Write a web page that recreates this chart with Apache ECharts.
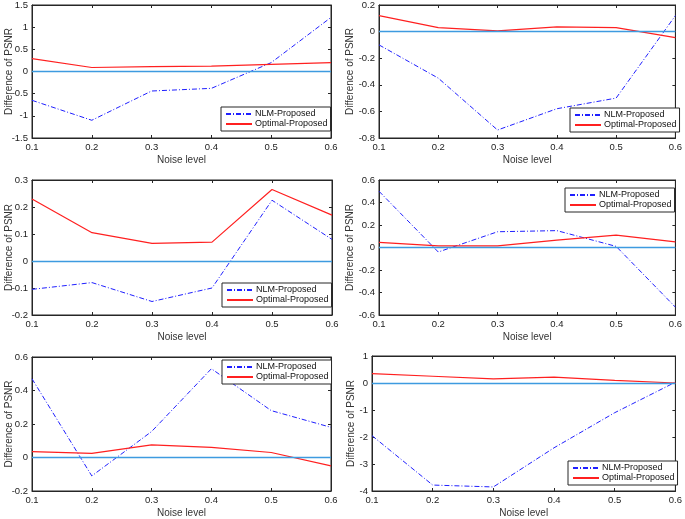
<!DOCTYPE html>
<html>
<head>
<meta charset="utf-8">
<script src="https://cdn.jsdelivr.net/npm/echarts@6/dist/echarts.min.js"></script>
<style>
  html, body { margin: 0; padding: 0; background: #fff; }
  #chart { width: 685px; height: 519px; }
</style>
</head>
<body>
<div id="chart"></div>
<script>
// noise levels on the x axis
var noiseLevels = [0.1, 0.2, 0.3, 0.4, 0.5, 0.6];

// PSNR differences, one pair of arrays per panel
var nlm1 = [-0.65, -1.10, -0.44, -0.38, 0.20, 1.22];
var opt1 = [0.29, 0.09, 0.11, 0.12, 0.16, 0.20];
var nlm2 = [-0.10, -0.35, -0.74, -0.58, -0.50, 0.12];
var opt2 = [0.12, 0.03, 0.005, 0.035, 0.03, -0.045];
var nlm3 = [-0.105, -0.08, -0.15, -0.10, 0.225, 0.08];
var opt3 = [0.23, 0.105, 0.065, 0.07, 0.265, 0.17];
var nlm4 = [0.50, -0.04, 0.14, 0.15, 0.01, -0.53];
var opt4 = [0.045, 0.015, 0.015, 0.065, 0.11, 0.05];
var nlm5 = [0.47, -0.11, 0.155, 0.53, 0.28, 0.18];
var opt5 = [0.035, 0.025, 0.075, 0.06, 0.03, -0.05];
var nlm6 = [-1.95, -3.78, -3.85, -2.40, -1.10, 0.03];
var opt6 = [0.35, 0.25, 0.15, 0.22, 0.10, 0.0];

// y axis [min, max, step] per panel
var yRanges = [
  [-1.5, 1.5, 0.5],
  [-0.8, 0.2, 0.2],
  [-0.2, 0.3, 0.1],
  [-0.6, 0.6, 0.2],
  [-0.2, 0.6, 0.2],
  [-4, 1, 1]
];

var panels = [
  { nlm: nlm1, opt: opt1, grid: [32, 3, 299, 135], yGap: 18, legend: [221, 107] },
  { nlm: nlm2, opt: opt2, grid: [379, 3, 300, 135], yGap: 24, legend: [570, 108] },
  { nlm: nlm3, opt: opt3, grid: [32, 180, 300, 135], yGap: 18, legend: [222, 283] },
  { nlm: nlm4, opt: opt4, grid: [379, 180, 300, 135], yGap: 24, legend: [565, 188] },
  { nlm: nlm5, opt: opt5, grid: [32, 357, 299, 136], yGap: 18, legend: [222, 360] },
  { nlm: nlm6, opt: opt6, grid: [372, 356, 307, 137], yGap: 16, legend: [568, 461] }
];

var FONT = 'Liberation Sans';
var AXIS_COLOR = '#262626';

function pairs(xs, ys) {
  return xs.map(function (x, i) { return [x, ys[i]]; });
}

var grids = [], xAxes = [], yAxes = [], series = [], legends = [];

panels.forEach(function (p, i) {
  var r = yRanges[i];
  grids.push({
    left: p.grid[0], top: p.grid[1], width: p.grid[2], height: p.grid[3],
    show: true, borderColor: AXIS_COLOR, borderWidth: 1, backgroundColor: '#fff'
  });
  var tickCommon = { show: true, inside: true, length: 3, lineStyle: { color: AXIS_COLOR } };
  // bottom axis with labels
  xAxes.push({
    type: 'value', gridIndex: i, min: 0.1, max: 0.6, interval: 0.1,
    name: 'Noise level', nameLocation: 'middle', nameGap: 17, nameMoveOverlap: false,
    nameTextStyle: { fontFamily: FONT, fontSize: 10, color: '#333' },
    axisLine: { onZero: false, lineStyle: { color: AXIS_COLOR } },
    axisTick: tickCommon,
    axisLabel: { fontFamily: FONT, fontSize: 9.5, color: '#222', margin: 4,
      formatter: function (v) { return v.toFixed(1); } },
    splitLine: { show: false }
  });
  // top axis, ticks only
  xAxes.push({
    type: 'value', gridIndex: i, position: 'top', min: 0.1, max: 0.6, interval: 0.1,
    axisLine: { onZero: false, lineStyle: { color: AXIS_COLOR } },
    axisTick: tickCommon, axisLabel: { show: false }, splitLine: { show: false }
  });
  yAxes.push({
    type: 'value', gridIndex: i, min: r[0], max: r[1], interval: r[2],
    name: 'Difference of PSNR', nameLocation: 'middle', nameGap: p.yGap, nameMoveOverlap: false,
    nameTextStyle: { fontFamily: FONT, fontSize: 10, color: '#333' },
    axisLine: { show: true, onZero: false, lineStyle: { color: AXIS_COLOR } },
    axisTick: tickCommon,
    axisLabel: { fontFamily: FONT, fontSize: 9.5, color: '#222', margin: 4 },
    splitLine: { show: false }
  });
  yAxes.push({
    type: 'value', gridIndex: i, position: 'right', min: r[0], max: r[1], interval: r[2],
    axisLine: { show: true, onZero: false, lineStyle: { color: AXIS_COLOR } },
    axisTick: tickCommon, axisLabel: { show: false }, splitLine: { show: false }
  });

  series.push({
    name: 'NLM-Proposed', type: 'line', xAxisIndex: 2 * i, yAxisIndex: 2 * i,
    data: pairs(noiseLevels, p.nlm), showSymbol: false, symbol: 'none', z: 3,
    lineStyle: { color: '#2020ff', width: 1, type: [5, 2, 1, 2] },
    itemStyle: { color: '#2020ff' },
    markLine: {
      silent: true, symbol: 'none', label: { show: false },
      lineStyle: { color: '#3d9be0', width: 1.3, type: 'solid' },
      data: [{ yAxis: 0 }]
    }
  });
  series.push({
    name: 'Optimal-Proposed', type: 'line', xAxisIndex: 2 * i, yAxisIndex: 2 * i,
    data: pairs(noiseLevels, p.opt), showSymbol: false, symbol: 'none', z: 3,
    lineStyle: { color: '#ff2020', width: 1.2 },
    itemStyle: { color: '#ff2020' }
  });

  legends.push({
    left: p.legend[0], top: p.legend[1], orient: 'vertical',
    data: ['NLM-Proposed', 'Optimal-Proposed'],
    backgroundColor: '#fff', borderColor: AXIS_COLOR, borderWidth: 1,
    padding: [2.5, 3, 2.5, 4], itemGap: 1, itemWidth: 26, itemHeight: 11,
    selectedMode: false,
    itemStyle: { opacity: 0 },
    textStyle: { fontFamily: FONT, fontSize: 9, color: '#111', padding: [0, 0, 0, -2] }
  });
});

var chart = echarts.init(document.getElementById('chart'), null, { renderer: 'canvas' });
chart.setOption({
  animation: false,
  backgroundColor: '#fff',
  grid: grids,
  xAxis: xAxes,
  yAxis: yAxes,
  legend: legends,
  series: series
});
</script>
</body>
</html>
